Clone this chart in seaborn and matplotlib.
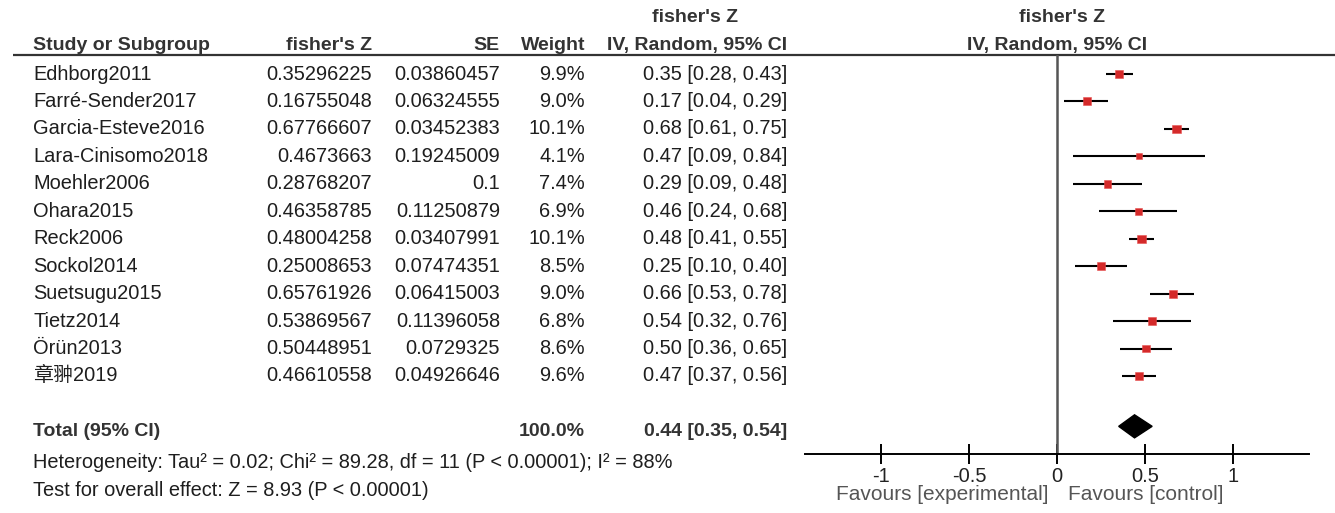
import matplotlib
matplotlib.use("Agg")
import matplotlib.pyplot as plt
import numpy as np
import pandas as pd
import seaborn as sns

# ---------------- data ----------------
studies = ["Edhborg2011", "Farré-Sender2017", "Garcia-Esteve2016", "Lara-Cinisomo2018",
           "Moehler2006", "Ohara2015", "Reck2006", "Sockol2014", "Suetsugu2015",
           "Tietz2014", "Örün2013", "章翀2019"]
fisher_z = [0.35296225, 0.16755048, 0.67766607, 0.4673663, 0.28768207, 0.46358785,
            0.48004258, 0.25008653, 0.65761926, 0.53869567, 0.50448951, 0.46610558]
se = [0.03860457, 0.06324555, 0.03452383, 0.19245009, 0.1, 0.11250879,
      0.03407991, 0.07474351, 0.06415003, 0.11396058, 0.0729325, 0.04926646]
weight = [9.9, 9.0, 10.1, 4.1, 7.4, 6.9, 10.1, 8.5, 9.0, 6.8, 8.6, 9.6]
ci_low = [0.28, 0.04, 0.61, 0.09, 0.09, 0.24, 0.41, 0.10, 0.53, 0.32, 0.36, 0.37]
ci_high = [0.43, 0.29, 0.75, 0.84, 0.48, 0.68, 0.55, 0.40, 0.78, 0.76, 0.65, 0.56]

total_weight = 100.0
total_est = 0.44
total_low = 0.35
total_high = 0.54

x_ticks = [-1, -0.5, 0, 0.5, 1]
x_tick_labels = ["-1", "-0.5", "0", "0.5", "1"]

het_text = "Heterogeneity: Tau² = 0.02; Chi² = 89.28, df = 11 (P < 0.00001); I² = 88%"
overall_text = "Test for overall effect: Z = 8.93 (P < 0.00001)"
left_label = "Favours [experimental]"
right_label = "Favours [control]"

df = pd.DataFrame({"study": studies, "z": fisher_z, "se": se, "weight": weight,
                   "lo": ci_low, "hi": ci_high})
df["row"] = np.arange(len(df))

# ---------------- style ----------------
sns.set_theme(style="white")
plt.rcParams["font.family"] = ["Liberation Sans", "Noto Sans CJK SC", "DejaVu Sans"]

W, H = 1335, 513
fig = plt.figure(figsize=(W / 100, H / 100), dpi=100)

row0, step = 74.0, 27.45


def ry(p):
    return (p - row0) / step


TXT = "#1e1e1e"
HDR = "#333333"
BODY_FS = 14.4
HDR_FS = 14

tab = fig.add_axes([0, 0, 1, 1])
tab.set_xlim(0, W)
tab.set_ylim(ry(H), ry(0))
tab.axis("off")

ax = fig.add_axes([805 / W, 1 - 454 / H, 504 / W, 399 / H])
ax.patch.set_alpha(0)
ax.set_xlim(-1.43, 1.43)
ax.set_ylim(ry(454), ry(55))

# ---------------- table ----------------
col_name, col_z, col_se, col_w, col_ci = 33, 372, 500, 585, 787
hy = ry(45)
tab.text(col_name, hy, "Study or Subgroup", ha="left", va="center", fontsize=HDR_FS,
         fontweight="bold", color=HDR)
tab.text(col_z, hy, "fisher's Z", ha="right", va="center", fontsize=HDR_FS, fontweight="bold", color=HDR)
tab.text(col_se, hy, "SE", ha="right", va="center", fontsize=HDR_FS, fontweight="bold", color=HDR)
tab.text(col_w, hy, "Weight", ha="right", va="center", fontsize=HDR_FS, fontweight="bold", color=HDR)
tab.text(col_ci, hy, "IV, Random, 95% CI", ha="right", va="center", fontsize=HDR_FS,
         fontweight="bold", color=HDR)
tab.text(695, ry(17), "fisher's Z", ha="center", va="center", fontsize=HDR_FS,
         fontweight="bold", color=HDR)

tab.plot([13, W], [ry(55), ry(55)], color="#333333", lw=1.6, solid_capstyle="butt")

for _, r in df.iterrows():
    y = r["row"]
    tab.text(col_name, y, r["study"], ha="left", va="center", fontsize=BODY_FS, color=TXT)
    tab.text(col_z, y, str(r["z"]), ha="right", va="center", fontsize=BODY_FS, color=TXT)
    tab.text(col_se, y, str(r["se"]), ha="right", va="center", fontsize=BODY_FS, color=TXT)
    tab.text(col_w, y, f"{r['weight']:.1f}%", ha="right", va="center", fontsize=BODY_FS, color=TXT)
    tab.text(col_ci, y, f"{r['z']:.2f} [{r['lo']:.2f}, {r['hi']:.2f}]", ha="right",
             va="center", fontsize=BODY_FS, color=TXT)

ty = ry(431)
tab.text(col_name, ty, "Total (95% CI)", ha="left", va="center", fontsize=HDR_FS,
         fontweight="bold", color=HDR)
tab.text(col_w, ty, f"{total_weight:.1f}%", ha="right", va="center", fontsize=HDR_FS,
         fontweight="bold", color=HDR)
tab.text(col_ci, ty, f"{total_est:.2f} [{total_low:.2f}, {total_high:.2f}]", ha="right",
         va="center", fontsize=HDR_FS, fontweight="bold", color=HDR)
tab.text(col_name, ry(462), het_text, ha="left", va="center", fontsize=BODY_FS, color=TXT)
tab.text(col_name, ry(490), overall_text, ha="left", va="center", fontsize=BODY_FS, color=TXT)

# ---------------- forest ----------------
tab.text(1062, ry(17), "fisher's Z", ha="center", va="center", fontsize=14,
         fontweight="bold", color=HDR)
tab.text(1057, ry(45), "IV, Random, 95% CI", ha="center", va="center", fontsize=14,
         fontweight="bold", color=HDR)

ax.axvline(0, color="#555555", lw=1.8, zorder=1)
ax.hlines(df["row"], df["lo"], df["hi"], color="black", lw=1.5, zorder=2)
sns.scatterplot(data=df, x="z", y="row", size="weight", sizes=(20, 36), marker="s",
                color="#d42a2a", edgecolor="#e85050", linewidth=0.4, legend=False,
                ax=ax, zorder=3)

dy = ry(431) - 0.17
ax.fill([total_low, total_est, total_high, total_est],
        [dy, dy - 0.42, dy, dy + 0.42], color="black", zorder=3)

for s in ["top", "left", "right"]:
    ax.spines[s].set_visible(False)
ax.spines["bottom"].set_color("black")
ax.spines["bottom"].set_linewidth(1.4)
ax.set_xticks(x_ticks)
ax.set_xticklabels(x_tick_labels)
ax.set_yticks([])
ax.set_xlabel("")
ax.set_ylabel("")
ax.tick_params(axis="x", direction="inout", length=15, width=1.4, labelsize=14.5,
               pad=2, colors="black", bottom=True)
for t in ax.get_xticklabels():
    t.set_color("#222222")

ax.text(-0.05, ry(495), left_label, ha="right", va="center", fontsize=15,
        color="#555555", clip_on=False)
ax.text(0.06, ry(495), right_label, ha="left", va="center", fontsize=15,
        color="#555555", clip_on=False)

fig.savefig("out.png", dpi=100)
